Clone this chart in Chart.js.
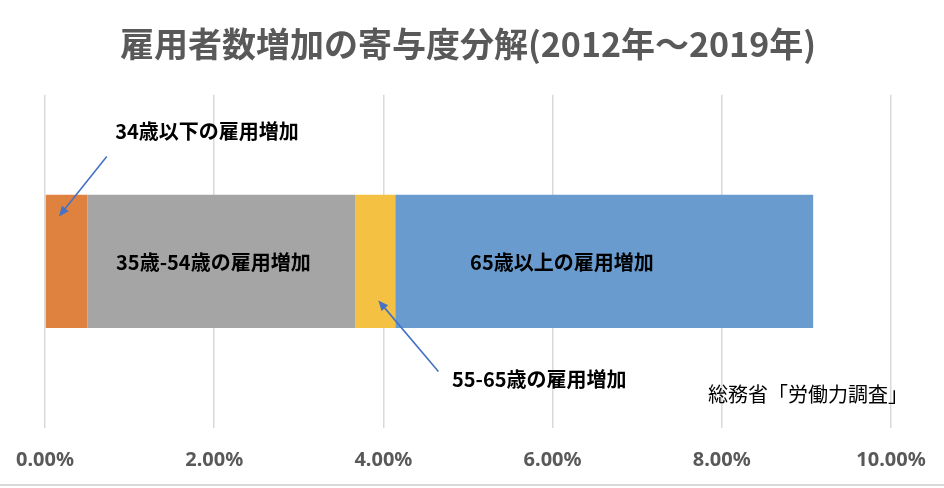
<!DOCTYPE html>
<html>
<head>
<meta charset="utf-8">
<script src="https://cdn.jsdelivr.net/npm/chart.js@4"></script>
<style>
  body { margin: 0; background: #fff; }
  #wrap { width: 944px; height: 488px; }
</style>
</head>
<body>
<div id="wrap"><canvas id="myChart"></canvas></div>
<script>
const categories = ["寄与度"];
const seriesNames = ["34歳以下の雇用増加", "35歳-54歳の雇用増加", "55-65歳の雇用増加", "65歳以上の雇用増加"];
const seriesValues = [0.50, 3.17, 0.47, 4.94];
const seriesColors = ["#E0823F", "#A5A5A5", "#F5C143", "#699BCF"];
const tickValues = [0, 2, 4, 6, 8, 10];

const titleText = "雇用者数増加の寄与度分解(2012年～2019年)";
const sourceText = "総務省「労働力調査」";

const jpFont = "'Noto Sans CJK JP', 'Noto Sans', sans-serif";

// callouts: x in % units, dy = offset from bar centre in px
const callouts = [
  { text: seriesNames[0], x: 0.83, dy: -130, align: "left", from: [0.73, -105], to: [0.165, -45] },
  { text: seriesNames[1], x: 1.99, dy: 1, align: "center" },
  { text: seriesNames[2], x: 4.81, dy: 118, align: "left", from: [4.65, 110], to: [3.94, 39] },
  { text: seriesNames[3], x: 6.11, dy: 1, align: "center" },
];

function drawArrow(ctx, x1, y1, x2, y2) {
  const ang = Math.atan2(y2 - y1, x2 - x1);
  const head = 11;
  ctx.save();
  ctx.strokeStyle = "#4472C4";
  ctx.fillStyle = "#4472C4";
  ctx.lineWidth = 1.6;
  ctx.beginPath();
  ctx.moveTo(x1, y1);
  ctx.lineTo(x2 - Math.cos(ang) * head * 0.8, y2 - Math.sin(ang) * head * 0.8);
  ctx.stroke();
  ctx.beginPath();
  ctx.moveTo(x2, y2);
  ctx.lineTo(x2 - head * Math.cos(ang - 0.4), y2 - head * Math.sin(ang - 0.4));
  ctx.lineTo(x2 - head * Math.cos(ang + 0.4), y2 - head * Math.sin(ang + 0.4));
  ctx.closePath();
  ctx.fill();
  ctx.restore();
}

const notes = {
  id: "notes",
  afterDatasetsDraw(chart) {
    const ctx = chart.ctx;
    const xs = chart.scales.x;
    const yc = chart.scales.y.getPixelForValue(0);
    ctx.save();
    ctx.textBaseline = "middle";
    callouts.forEach(c => {
      ctx.font = "bold 20px " + jpFont;
      ctx.fillStyle = "#000";
      ctx.textAlign = c.align;
      ctx.fillText(c.text, xs.getPixelForValue(c.x), yc + c.dy);
      if (c.from) {
        drawArrow(ctx, xs.getPixelForValue(c.from[0]), yc + c.from[1],
          xs.getPixelForValue(c.to[0]), yc + c.to[1]);
      }
    });
    ctx.font = "20px " + jpFont;
    ctx.fillStyle = "#000";
    ctx.textAlign = "right";
    ctx.fillText(sourceText, xs.getPixelForValue(10.2), yc + 133);

    // bottom frame line
    ctx.strokeStyle = "#D9D9D9";
    ctx.lineWidth = 2;
    ctx.beginPath();
    ctx.moveTo(0, chart.height - 3);
    ctx.lineTo(chart.width, chart.height - 3);
    ctx.stroke();
    ctx.restore();
  }
};

new Chart(document.getElementById("myChart"), {
  type: "bar",
  data: {
    labels: categories,
    datasets: seriesNames.map((name, i) => ({
      label: name,
      data: [seriesValues[i]],
      backgroundColor: seriesColors[i],
      borderWidth: 0,
      categoryPercentage: 0.4,
      barPercentage: 1.0,
    })),
  },
  options: {
    indexAxis: "y",
    responsive: true,
    maintainAspectRatio: false,
    animation: false,
    layout: { padding: { left: 45, right: 53, top: 0, bottom: 0 } },
    plugins: {
      legend: { display: false },
      tooltip: { enabled: false },
      title: {
        display: true,
        text: titleText,
        color: "#595959",
        font: { family: jpFont, size: 34, weight: "bold" },
        padding: { top: 24, bottom: 30 },
      },
    },
    scales: {
      x: {
        stacked: true,
        min: 0,
        max: 10,
        afterBuildTicks: axis => { axis.ticks = tickValues.map(v => ({ value: v })); },
        afterFit: axis => {
          axis.height = 60;
          axis.paddingLeft = 0;
          axis.paddingRight = 0;
        },
        grid: { color: "#D9D9D9", lineWidth: 1.5, drawTicks: false },
        border: { display: false },
        ticks: {
          padding: 20,
          color: "#595959",
          font: { family: "'Noto Sans', sans-serif", size: 20, weight: "bold" },
          callback: v => v.toFixed(2) + "%",
        },
      },
      y: {
        stacked: true,
        display: false,
      },
    },
  },
  plugins: [notes],
});
</script>
</body>
</html>
